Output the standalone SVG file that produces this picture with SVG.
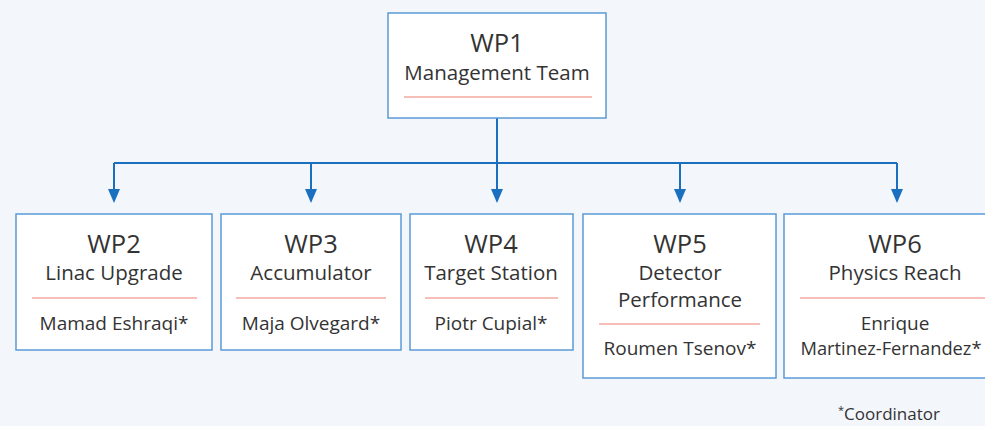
<svg xmlns="http://www.w3.org/2000/svg" width="985" height="426" viewBox="0 0 985 426">
<defs>
<style>
.box{fill:#ffffff;stroke:#5b9bd5;stroke-width:1.5}
.rule{stroke:#f4a8a0;stroke-width:1.5}
.t{font-family:"Open Sans","Noto Sans",sans-serif;fill:#333333;text-anchor:middle}
.h{font-size:25.5px}
.s{font-size:20.5px}
.n{font-size:19px}
.conn{fill:none;stroke:#1a6fbf;stroke-width:2}
.head{fill:#1a6fbf}
</style>
</defs>
<rect width="985" height="426" fill="#f3f6fb"/>
<g id="connectors">
<path class="conn" d="M497,118 V163"/>
<path class="conn" d="M114,163 H897"/>
<path class="conn" d="M114,163 V189"/>
<path class="conn" d="M311,163 V189"/>
<path class="conn" d="M497,163 V189"/>
<path class="conn" d="M680,163 V189"/>
<path class="conn" d="M897,163 V189"/>
<path class="head" d="M108,189 L120,189 L114,203 Z"/>
<path class="head" d="M305,189 L317,189 L311,203 Z"/>
<path class="head" d="M491,189 L503,189 L497,203 Z"/>
<path class="head" d="M674,189 L686,189 L680,203 Z"/>
<path class="head" d="M891,189 L903,189 L897,203 Z"/>
</g>
<g id="wp1">
<rect class="box" x="388" y="13" width="218" height="105"/>
<text class="t h" x="497" y="52">WP1</text>
<text class="t s" x="497" y="80">Management Team</text>
<line class="rule" x1="404" y1="97" x2="592" y2="97"/>
</g>
<g id="wp2">
<rect class="box" x="16" y="214" width="196" height="136"/>
<text class="t h" x="114" y="253">WP2</text>
<text class="t s" x="114" y="280">Linac Upgrade</text>
<line class="rule" x1="32" y1="298" x2="197" y2="298"/>
<text class="t n" x="114" y="330">Mamad Eshraqi*</text>
</g>
<g id="wp3">
<rect class="box" x="221" y="214" width="180" height="136"/>
<text class="t h" x="311" y="253">WP3</text>
<text class="t s" x="311" y="280">Accumulator</text>
<line class="rule" x1="236" y1="298" x2="386" y2="298"/>
<text class="t n" x="311" y="330">Maja Olvegard*</text>
</g>
<g id="wp4">
<rect class="box" x="410" y="214" width="163" height="136"/>
<text class="t h" x="491" y="253">WP4</text>
<text class="t s" x="491" y="280">Target Station</text>
<line class="rule" x1="425" y1="298" x2="558" y2="298"/>
<text class="t n" x="491" y="330">Piotr Cupial*</text>
</g>
<g id="wp5">
<rect class="box" x="583" y="214" width="193" height="164"/>
<text class="t h" x="680" y="253">WP5</text>
<text class="t s" x="680" y="280">Detector</text>
<text class="t s" x="680" y="307">Performance</text>
<line class="rule" x1="599" y1="324" x2="760" y2="324"/>
<text class="t n" x="680" y="355">Roumen Tsenov*</text>
</g>
<g id="wp6">
<rect class="box" x="784" y="214" width="222" height="164"/>
<text class="t h" x="895" y="253">WP6</text>
<text class="t s" x="895" y="280">Physics Reach</text>
<line class="rule" x1="800" y1="298" x2="990" y2="298"/>
<text class="t n" x="895" y="330">Enrique</text>
<text class="t" x="891" y="355" style="font-size:18.3px">Martinez-Fernandez*</text>
</g>
<text class="t" x="889" y="420" style="font-size:17px"><tspan style="font-size:11px" dy="-6">*</tspan><tspan dy="6">Coordinator</tspan></text>
</svg>
